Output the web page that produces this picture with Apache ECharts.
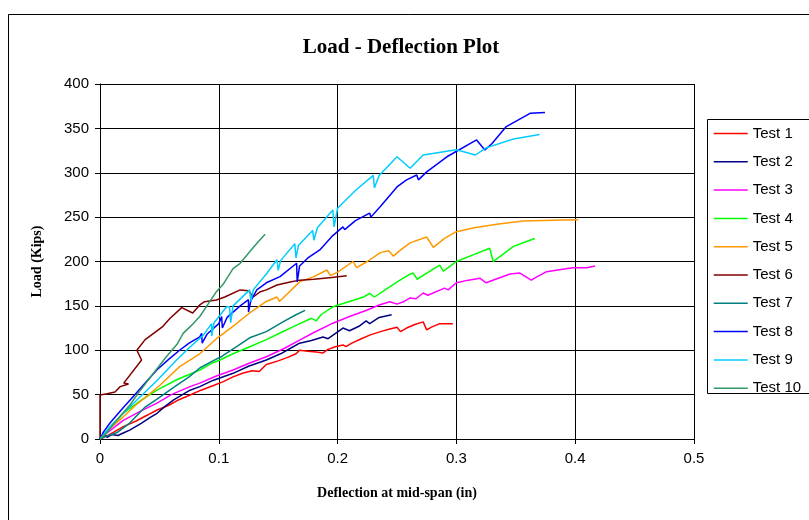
<!DOCTYPE html>
<html>
<head>
<meta charset="utf-8">
<script src="https://cdn.jsdelivr.net/npm/echarts@6/dist/echarts.min.js"></script>
<style>
  html, body { margin: 0; padding: 0; background: #fff; }
  #chart { width: 809px; height: 520px; }
</style>
</head>
<body>
<div id="chart"></div>
<script>
// Load - deflection data, [deflection (in), load (kips)]
var testNames = ['Test 1', 'Test 2', 'Test 3', 'Test 4', 'Test 5', 'Test 6', 'Test 7', 'Test 8', 'Test 9', 'Test 10'];
var testColors = ['#ff0000', '#000080', '#ff00ff', '#00ff00', '#ff9900', '#800000', '#008080', '#0000ff', '#00ccff', '#339966'];
var xTicks = [0, 0.1, 0.2, 0.3, 0.4, 0.5];

var test1 = [[0,0],[0.005,3],[0.012,8],[0.0196,14],[0.03,20],[0.04,27],[0.048,32.7],[0.058,38],[0.066,44],[0.0758,49.6],[0.085,55],[0.095,60],[0.1038,64.6],[0.112,70],[0.12,74],[0.128,77],[0.134,76],[0.14,84],[0.15,88],[0.158,92],[0.165,96],[0.168,100],[0.175,99],[0.182,98],[0.1877,97],[0.192,101],[0.198,104],[0.2045,106],[0.207,104],[0.212,108],[0.22,113],[0.227,117],[0.236,121],[0.244,124],[0.25,126],[0.253,121],[0.258,125],[0.265,129],[0.272,132],[0.275,123],[0.279,126],[0.286,130],[0.297,130]];
var test2 = [[0,0],[0.003,6],[0.006,2],[0.01,5],[0.015,4],[0.02,7],[0.025,10],[0.035,18],[0.042,24],[0.048,29],[0.055,37],[0.062,44],[0.0758,55],[0.084,59],[0.095,66],[0.112,74],[0.125,82],[0.14,89],[0.152,96],[0.16,102],[0.168,108],[0.178,111],[0.1877,115],[0.192,113],[0.2045,125],[0.21,122],[0.218,127],[0.224,133],[0.227,130],[0.235,137],[0.2455,140]];
var test3 = [[0,0],[0.005,6],[0.0196,21],[0.035,32],[0.048,40.5],[0.06,50],[0.0758,59],[0.084,63],[0.098,71],[0.112,77.7],[0.125,85],[0.14,92.7],[0.155,102],[0.168,111.5],[0.18,120],[0.196,130.5],[0.21,138],[0.2245,145],[0.235,151],[0.244,154.7],[0.25,152],[0.256,155],[0.261,159],[0.266,158],[0.272,164.5],[0.276,162],[0.29,170],[0.293,168],[0.3,176],[0.31,179],[0.32,181],[0.325,176],[0.333,180],[0.345,186],[0.3535,187],[0.363,179],[0.368,183],[0.376,188.5],[0.388,191],[0.398,193],[0.41,193],[0.4167,195]];
var test4 = [[0,0],[0.005,7],[0.0196,29],[0.035,44],[0.048,55],[0.065,67],[0.084,77.7],[0.095,86],[0.101,89],[0.112,96],[0.126,104],[0.14,112],[0.1515,119.4],[0.165,128],[0.178,136],[0.182,133],[0.186,140],[0.196,149],[0.21,155],[0.222,160],[0.227,164],[0.231,160],[0.24,168],[0.2525,179],[0.26,185],[0.2636,187],[0.267,180],[0.275,187],[0.286,196],[0.289,189],[0.295,195],[0.3,200],[0.315,208],[0.328,215],[0.331,200],[0.336,205],[0.348,217],[0.358,222],[0.366,226]];
var test5 = [[0,0],[0.005,8],[0.0196,25],[0.03,38],[0.039,47.7],[0.05,60],[0.067,81.5],[0.084,96],[0.098,113],[0.11,125],[0.126,142],[0.14,155],[0.149,160],[0.151,155],[0.158,164],[0.168,177],[0.18,183],[0.191,190.4],[0.194,184],[0.2,188],[0.213,200],[0.216,193],[0.225,200],[0.236,210],[0.243,212],[0.247,206],[0.252,212],[0.261,221],[0.275,227.6],[0.2806,216],[0.29,226],[0.3,233.6],[0.315,238],[0.334,242],[0.356,245.6],[0.39,246.8],[0.4025,247]];
var test6 = [[0,0],[0,49.5],[0.006,51],[0.0126,53],[0.017,59],[0.024,62],[0.02,63],[0.035,89],[0.031,100],[0.038,112],[0.042,116],[0.053,127],[0.059,136],[0.0688,148],[0.078,142],[0.084,151],[0.088,154.7],[0.098,156.6],[0.105,160],[0.118,168],[0.125,167],[0.129,160],[0.135,166],[0.14,168],[0.149,173.5],[0.16,177],[0.168,179],[0.18,180],[0.195,182],[0.2077,184]];
var test7 = [[0,0],[0.005,3],[0.014,7],[0.025,18],[0.038,36],[0.048,45],[0.0617,58],[0.075,70],[0.084,80],[0.095,88],[0.1024,93],[0.115,104],[0.126,114],[0.14,121],[0.154,132],[0.165,140],[0.1726,145]];
var test8 = [[0,0],[0.003,8],[0.0084,18],[0.018,33],[0.028,48],[0.038,63],[0.048,78],[0.058,90],[0.067,100],[0.075,108],[0.084,115],[0.0856,119],[0.086,108],[0.09,118],[0.1,130],[0.1024,138],[0.103,125],[0.107,137],[0.112,143],[0.118,150],[0.125,157],[0.125,143],[0.127,156],[0.132,168],[0.14,176],[0.1515,183],[0.1655,198],[0.166,177],[0.168,195],[0.175,204],[0.185,213],[0.195,228],[0.2045,239],[0.206,236],[0.215,246],[0.227,254.6],[0.228,250],[0.236,262],[0.25,284],[0.258,292],[0.2666,297.5],[0.268,292],[0.275,301],[0.292,318],[0.317,337],[0.324,325.6],[0.33,333],[0.342,352],[0.362,367],[0.3746,368]];
var test9 = [[0,0],[0.003,5],[0.0084,14],[0.025,36],[0.048,66],[0.0645,89],[0.076,104],[0.087,117],[0.094,130],[0.094,116],[0.096,131],[0.1066,149],[0.109,149],[0.11,131],[0.112,150],[0.126,168],[0.127,155],[0.129,168],[0.14,186],[0.149,202],[0.15,190],[0.152,201],[0.164,220],[0.165,204],[0.167,218],[0.179,235],[0.18,224],[0.183,238],[0.196,258],[0.197,239],[0.2,260],[0.215,280],[0.23,297],[0.231,283],[0.235,297],[0.25,318],[0.261,305],[0.272,320],[0.3,326],[0.316,320],[0.325,328],[0.348,338],[0.37,343]];
var test10 = [[0,0],[0.005,6],[0.014,21],[0.025,38],[0.034,55],[0.045,74],[0.056,93],[0.065,107],[0.07,119],[0.077,128],[0.084,138],[0.09,150],[0.098,166],[0.104,175],[0.112,192],[0.118,198],[0.126,211],[0.133,222],[0.139,230.6]];

var allTests = [test1, test2, test3, test4, test5, test6, test7, test8, test9, test10];

var chart = echarts.init(document.getElementById('chart'));

var series = allTests.map(function(data, i) {
  return {
    name: testNames[i],
    type: 'line',
    data: data,
    symbol: 'none',
    color: testColors[i],
    lineStyle: { width: 1.5, color: testColors[i] },
    z: 3
  };
});

var option = {
  animation: false,
  backgroundColor: '#fff',
  title: {
    text: 'Load - Deflection Plot',
    left: 396,
    textAlign: 'center',
    top: 32,
    textStyle: { fontFamily: 'Liberation Serif', fontWeight: 'bold', fontSize: 21, color: '#000' }
  },
  legend: {
    orient: 'vertical',
    left: 713,
    top: 126,
    padding: 0,
    itemWidth: 34,
    itemHeight: 14,
    itemGap: 13.3,
    data: testNames,
    itemStyle: { opacity: 0 },
    lineStyle: { width: 1.5 },
    textStyle: { fontFamily: 'Liberation Sans', fontSize: 15, color: '#000' }
  },
  grid: { left: 100, right: 115, top: 84, bottom: 81 },
  xAxis: {
    type: 'value',
    min: 0,
    max: 0.5,
    interval: 0.1,
    name: 'Deflection at mid-span (in)',
    nameLocation: 'middle',
    nameGap: 47,
    nameTextStyle: { fontFamily: 'Liberation Serif', fontWeight: 'bold', fontSize: 14, color: '#000' },
    axisLine: { lineStyle: { color: '#000', width: 1 } },
    axisTick: { show: true, length: 5, lineStyle: { color: '#000' } },
    axisLabel: {
      margin: 12, color: '#000', fontFamily: 'Liberation Sans', fontSize: 15,
      formatter: function(v) { return xTicks.indexOf(Math.round(v * 10) / 10) >= 0 ? String(Math.round(v * 10) / 10) : ''; }
    },
    splitLine: { show: true, lineStyle: { color: '#000', width: 1 } }
  },
  yAxis: {
    type: 'value',
    min: 0,
    max: 400,
    interval: 50,
    name: 'Load (Kips)',
    nameLocation: 'middle',
    nameRotate: 90,
    nameGap: 56,
    nameTextStyle: { fontFamily: 'Liberation Serif', fontWeight: 'bold', fontSize: 14, color: '#000' },
    axisLine: { show: true, lineStyle: { color: '#000', width: 1 } },
    axisTick: { show: true, length: 5, lineStyle: { color: '#000' } },
    axisLabel: { margin: 11, color: '#000', fontFamily: 'Liberation Sans', fontSize: 15 },
    splitLine: { show: true, lineStyle: { color: '#000', width: 1 } }
  },
  graphic: [
    {
      type: 'rect',
      shape: { x: 8.5, y: 14.5, width: 900, height: 600 },
      style: { fill: 'none', stroke: '#000', lineWidth: 1 },
      silent: true
    },
    {
      type: 'rect',
      shape: { x: 707.5, y: 119.5, width: 200, height: 274 },
      style: { fill: 'none', stroke: '#000', lineWidth: 1 },
      silent: true
    }
  ],
  series: series
};

chart.setOption(option);
</script>
</body>
</html>
